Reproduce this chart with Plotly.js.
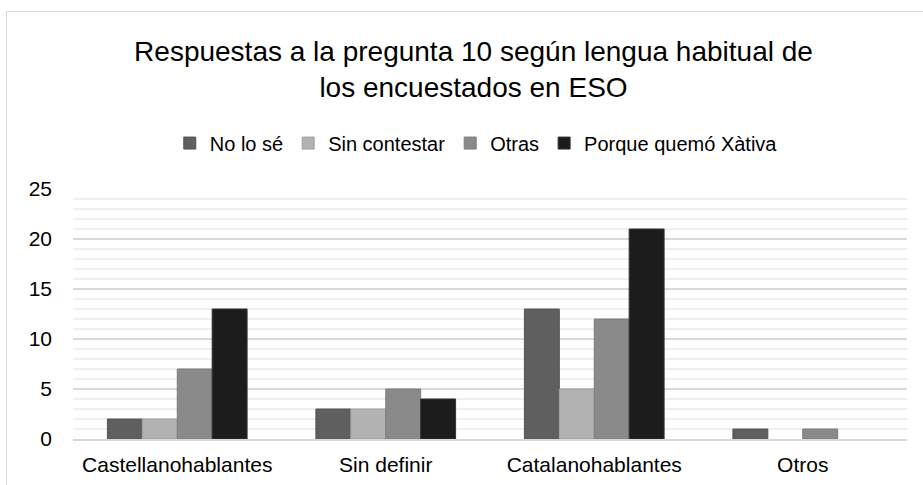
<!DOCTYPE html>
<html><head><meta charset="utf-8">
<script src="https://cdn.plot.ly/plotly-3.0.1.min.js"></script>
<style>
html,body{margin:0;padding:0;background:#fff;}
#wrap{position:relative;width:923px;height:485px;overflow:hidden;}
#chart{position:absolute;left:0;top:0;width:923px;height:485px;}
#frame{position:absolute;left:6px;top:11px;width:940px;height:500px;border:1.5px solid #d9d9d9;pointer-events:none;}
</style></head>
<body><div id="wrap"><div id="chart"></div><div id="frame"></div></div>
<script>
const categories = ["Castellanohablantes", "Sin definir", "Catalanohablantes", "Otros"];
const seriesNames = ["No lo sé", "Sin contestar", "Otras", "Porque quemó Xàtiva"];
const noLoSe = [2, 3, 13, 1];
const sinContestar = [2, 3, 5, 0];
const otras = [7, 5, 12, 1];
const porqueQuemoXativa = [13, 4, 21, 0];
const seriesValues = [noLoSe, sinContestar, otras, porqueQuemoXativa];
const colors = ["#5f5f5f", "#b2b2b2", "#8a8a8a", "#1c1c1c"];
const lineColors = ["#555555", "#a0a0a0", "#7c7c7c", "#333333"];

const font = "Liberation Sans, Arial, sans-serif";
const traces = seriesNames.map((n, i) => ({
  type: "bar", name: n, x: categories, y: seriesValues[i],
  marker: {color: colors[i], line: {color: lineColors[i], width: seriesValues[i].map(v => v === 0 ? 0 : 1)}}
}));

const layout = {
  width: 923, height: 485,
  margin: {l: 73, r: 16, t: 189, b: 46},
  paper_bgcolor: "#ffffff", plot_bgcolor: "#ffffff",
  font: {family: font, color: "#000"},
  title: {text: "Respuestas a la pregunta 10 según lengua habitual de<br>los encuestados en ESO",
          font: {size: 28, family: font, color: "#000"},
          x: 0.513, xref: "container", xanchor: "center", y: 0.875, yref: "container", yanchor: "top"},
  showlegend: true,
  legend: {orientation: "h", x: 0.516, xref: "container", xanchor: "center", y: 0.705, yref: "container", yanchor: "middle",
           font: {size: 20, family: font, color: "#000"}, traceorder: "normal", itemwidth: 30},
  barmode: "group", bargap: 0.33, bargroupgap: 0,
  xaxis: {type: "category", showgrid: false, showline: true, linecolor: "#d9d9d9", linewidth: 1.5,
          ticks: "", ticklabelstandoff: 6, tickfont: {size: 21, family: font, color: "#000"}, fixedrange: true},
  yaxis: {range: [0, 25], dtick: 5, showgrid: true, gridcolor: "#d9d9d9", gridwidth: 1.5,
          zeroline: false, showline: false, ticks: "", ticklen: 0, ticklabelstandoff: 20,
          tickfont: {size: 21, family: font, color: "#000"},
          minor: {dtick: 1, showgrid: true, gridcolor: "#efefef", gridwidth: 1.3},
          fixedrange: true}
};
Plotly.newPlot("chart", traces, layout, {displayModeBar: false, staticPlot: true});
</script></body></html>
